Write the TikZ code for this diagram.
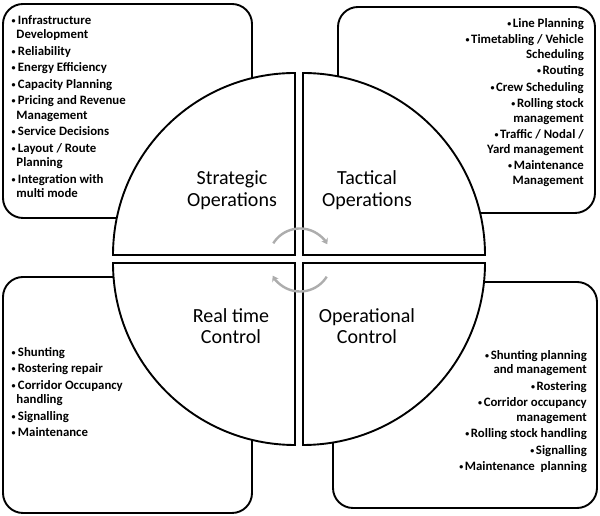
\documentclass[tikz,border=0pt]{standalone}
\usepackage{fontspec}
\setmainfont{Carlito}
\usetikzlibrary{arrows.meta}
\newcommand\bu{\makebox[6.3pt][l]{\raisebox{0.9pt}{\fontsize{8}{8}\selectfont•}}}
\newcommand\bur{\raisebox{0.9pt}{\fontsize{8}{8}\selectfont•}\hspace{1.6pt}}
\begin{document}
\begin{tikzpicture}[x=1pt,y=1pt,
  box/.style={draw=black,line width=1.9pt,rounded corners=20pt,fill=white},
  quad/.style={draw=black,line width=1.9pt,fill=white},
  listl/.style={inner sep=0pt,align=left,font=\bfseries\fontsize{12.8}{14.5}\selectfont},
  listr/.style={inner sep=0pt,align=right,font=\bfseries\fontsize{12.8}{14.5}\selectfont},
  qlabel/.style={inner sep=0pt,align=center,font=\fontsize{20}{21.5}\selectfont},
  cyc/.style={draw=black!32,line width=2.4pt,-{Stealth[length=5.5pt,width=7.5pt]}}]
\useasboundingbox (0,0) rectangle (600,516);
% boxes
\draw[box] (3,298) rectangle (252,512);
\draw[box] (338,303) rectangle (595,509);
\draw[box] (3,3) rectangle (252,239);
\draw[box] (333,8) rectangle (597,234);
% quadrants
\coordinate (ctl) at (295,261);
\coordinate (ctr) at (303,261);
\coordinate (cbl) at (295,253);
\coordinate (cbr) at (303,253);
\draw[quad] (ctl) -- ++(-182,0) arc[start angle=180,end angle=90,radius=182] -- cycle;
\draw[quad] (ctr) -- ++(0,182) arc[start angle=90,end angle=0,radius=182] -- cycle;
\draw[quad] (cbl) -- ++(-182,0) arc[start angle=180,end angle=270,radius=182] -- cycle;
\draw[quad] (cbr) -- ++(182,0) arc[start angle=0,end angle=-90,radius=182] -- cycle;
% labels
\node[qlabel] (strat) at (232,326) {Strategic\\Operations};
\node[qlabel] (tact) at (367,326) {Tactical\\Operations};
\node[qlabel] (real) at (231,190) {Real time\\Control};
\node[qlabel] (oper) at (367,190) {Operational\\Control};
% cycle arrows
\coordinate (cc) at (300,256);
\draw[cyc] (cc) ++(148:31.5) arc[start angle=148,end angle=30,radius=31.5];
\draw[cyc] (cc) ++(-32:31.5) arc[start angle=-32,end angle=-150,radius=31.5];
% lists
\node[listl,anchor=north west] (ltl) at (11.5,501) {%
\bu Infrastructure\\\hspace{4.8pt}Development\\[2pt]
\bu Reliability\\[2pt]
\bu Energy Efficiency\\[2pt]
\bu Capacity Planning\\[2pt]
\bu Pricing and Revenue\\\hspace{4.8pt}Management\\[2pt]
\bu Service Decisions\\[2pt]
\bu Layout / Route\\\hspace{4.8pt}Planning\\[2pt]
\bu Integration with\\\hspace{4.8pt}multi mode};
\node[listr,anchor=north east] (ltr) at (584,498) {%
\bur Line Planning\\[2pt]
\bur Timetabling / Vehicle\\Scheduling\\[2pt]
\bur Routing\\[2pt]
\bur Crew Scheduling\\[2pt]
\bur Rolling stock\\management\\[2pt]
\bur Traffic / Nodal /\\Yard management\\[2pt]
\bur Maintenance\\Management};
\node[listl,anchor=north west] (lbl) at (11.5,169) {%
\bu Shunting\\[2pt]
\bu Rostering repair\\[2pt]
\bu Corridor Occupancy\\\hspace{4.8pt}handling\\[2pt]
\bu Signalling\\[2pt]
\bu Maintenance};
\node[listr,anchor=north east] (lbr) at (587,166) {%
\bur Shunting planning\\and management\\[2pt]
\bur Rostering\\[2pt]
\bur Corridor occupancy\\management\\[2pt]
\bur Rolling stock handling\\[2pt]
\bur Signalling\\[2pt]
\bur Maintenance~~planning};
\end{tikzpicture}
\end{document}
